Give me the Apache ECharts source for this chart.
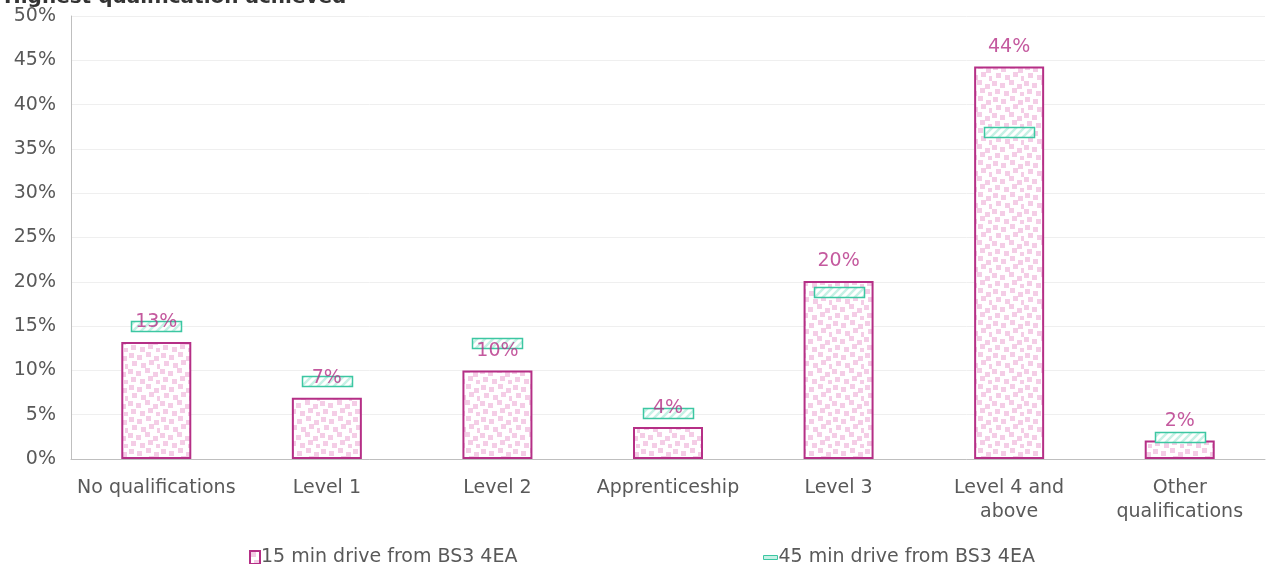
<!DOCTYPE html>
<html>
<head>
<meta charset="utf-8">
<script src="https://cdn.jsdelivr.net/npm/echarts@6/dist/echarts.min.js"></script>
<style>
  html, body { margin: 0; padding: 0; background: #fff; }
  #main { width: 1268px; height: 564px; }
</style>
</head>
<body>
<div id="main"></div>
<script>
// data (percent)
var categories = ["No qualifications", "Level 1", "Level 2", "Apprenticeship", "Level 3", "Level 4 and\nabove", "Other\nqualifications"];
var drive15 = [13.2, 6.9, 10.0, 3.6, 20.1, 44.3, 2.1];
var drive45 = [15.0, 8.8, 13.1, 5.2, 18.8, 36.9, 2.5];
var yTicks = [0, 5, 10, 15, 20, 25, 30, 35, 40, 45, 50];
var name15 = "15 min drive from BS3 4EA";
var name45 = "45 min drive from BS3 4EA";

var FONT = "DejaVu Sans";
var GREY = "#595959";
var PINK = "#B52F86";
var TEAL = "#3CC7A2";

// pink speckle pattern for the bars
function dotsPattern() {
    var c = document.createElement("canvas");
    c.width = 32; c.height = 32;
    var g = c.getContext("2d");
    g.fillStyle = "#ffffff";
    g.fillRect(0, 0, 32, 32);
    g.fillStyle = "#F4CDE6";
    var pts = [[1,1],[9,3],[18,0],[26,4],[4,9],[13,11],[21,8],[29,12],
               [0,17],[8,19],[17,16],[25,20],[3,25],[12,27],[20,24],[28,28]];
    for (var i = 0; i < pts.length; i++) {
        g.fillRect(pts[i][0], pts[i][1], 5, 5);
    }
    return c;
}
// light teal diagonal hatch for the markers
function hatchPattern() {
    var c = document.createElement("canvas");
    c.width = 8; c.height = 8;
    var g = c.getContext("2d");
    g.fillStyle = "#ffffff";
    g.fillRect(0, 0, 8, 8);
    g.strokeStyle = "#C6F1E5";
    g.lineWidth = 2.5;
    g.beginPath();
    g.moveTo(-2, 10); g.lineTo(10, -2);
    g.moveTo(-2, 2); g.lineTo(2, -2);
    g.moveTo(6, 10); g.lineTo(10, 6);
    g.stroke();
    return c;
}

var dots = { image: dotsPattern(), repeat: "repeat" };
var hatch = { image: hatchPattern(), repeat: "repeat" };

var myChart = echarts.init(document.getElementById("main"));
var option = {
    animation: false,
    title: {
        text: "Highest qualification achieved",
        left: -1,
        top: -17,
        textStyle: { fontFamily: FONT, fontSize: 20, fontWeight: "bold", color: "#333" }
    },
    grid: { left: 71, right: 3, top: 16, bottom: 105 },
    legend: [{
        data: [{ name: name15, icon: "rect" }],
        left: 244, top: 543,
        itemWidth: 10, itemHeight: 13,
        textStyle: { fontFamily: FONT, fontSize: 19, color: GREY, padding: [0, 0, 0, -4] }
    }, {
        data: [{ name: name45, icon: "rect" }],
        left: 758, top: 543,
        itemWidth: 14, itemHeight: 4,
        itemStyle: { color: "#C6F1E5", borderColor: TEAL, borderWidth: 1 },
        textStyle: { fontFamily: FONT, fontSize: 19, color: GREY, padding: [0, 0, 0, -4] }
    }],
    xAxis: {
        type: "category",
        data: categories,
        axisTick: { show: false },
        axisLine: { lineStyle: { color: "#BFBFBF", width: 1 } },
        axisLabel: { interval: 0, margin: 17, fontFamily: FONT, fontSize: 19, color: GREY, lineHeight: 24 }
    },
    yAxis: {
        type: "value",
        min: yTicks[0],
        max: yTicks[yTicks.length - 1],
        interval: 5,
        axisLine: { show: true, lineStyle: { color: "#BFBFBF" } },
        splitLine: { lineStyle: { color: "#EFEFEF" } },
        axisLabel: { formatter: "{value}%", fontFamily: FONT, fontSize: 19, color: GREY, margin: 15 }
    },
    series: [{
        name: name15,
        type: "bar",
        data: drive15,
        barWidth: 70,
        z: 2,
        itemStyle: { color: dots, borderColor: PINK, borderWidth: 2 }
    }, {
        name: name45,
        type: "custom",
        data: drive45,
        z: 3,
        itemStyle: { color: hatch, borderColor: TEAL },
        renderItem: function (params, api) {
            var pt = api.coord([api.value(0), api.value(1)]);
            return {
                type: "rect",
                shape: { x: Math.round(pt[0] - 25) + 0.5, y: Math.round(pt[1] - 5) + 0.5, width: 50, height: 10 },
                style: { fill: hatch, stroke: TEAL, lineWidth: 1.5 }
            };
        }
    }, {
        name: "labels",
        type: "scatter",
        data: drive15,
        symbolSize: 0,
        silent: true,
        z: 4,
        label: {
            show: true,
            position: "top",
            distance: 10,
            formatter: function (p) { return Math.round(p.value) + "%"; },
            fontFamily: FONT, fontSize: 19, color: PINK
        }
    }]
};
myChart.setOption(option);
window.onresize = myChart.resize;
</script>
</body>
</html>
